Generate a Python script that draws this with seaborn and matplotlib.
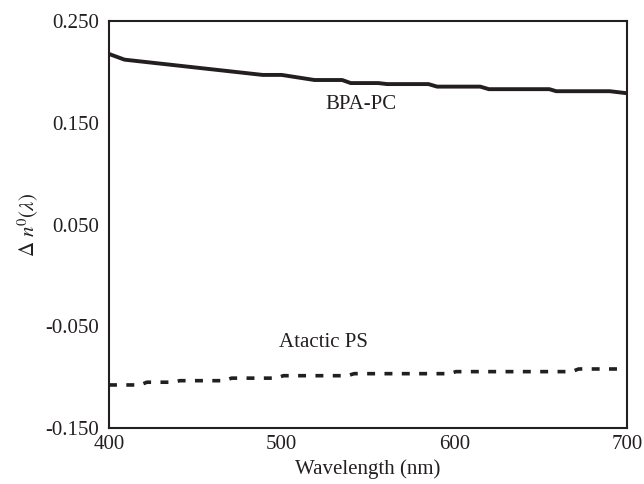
import numpy as np
import pandas as pd
import matplotlib
matplotlib.use("Agg")
import matplotlib.pyplot as plt
import seaborn as sns

# BPA-PC (solid)
pc_wavelength = [400, 409, 489, 500, 519, 535, 540, 556, 561, 585, 590, 615, 620, 655, 659, 690, 700]
pc_dn = [0.2176, 0.212, 0.197, 0.197, 0.192, 0.192, 0.189, 0.189, 0.188, 0.188, 0.1855, 0.1855,
         0.183, 0.183, 0.181, 0.181, 0.179]

# Atactic PS (dashed)
ps_wavelength = [400, 418, 422, 437, 441, 467, 471, 497, 501, 538, 542, 597, 601, 668, 672, 700]
ps_dn = [-0.1077, -0.1077, -0.105, -0.105, -0.1035, -0.1035, -0.101, -0.101, -0.0986, -0.0986,
         -0.0966, -0.0966, -0.0946, -0.0946, -0.092, -0.092]

y_ticks = [-0.150, -0.050, 0.050, 0.150, 0.250]
y_ticklabels = ["-0.150", "-0.050", "0.050", "0.150", "0.250"]
x_ticks = [400, 500, 600, 700]

sns.set_theme(style="white")
plt.rcParams['font.family'] = ['Liberation Serif', 'DejaVu Serif']
plt.rcParams['mathtext.fontset'] = 'stix'

ink = "#231f20"
fs = 15

fig = plt.figure(figsize=(6.44, 4.84), dpi=100)
ax = fig.add_axes([109/644, 1 - 428/484, (627-109)/644, (428-21)/484])

df_pc = pd.DataFrame({"wl": pc_wavelength, "dn": pc_dn})
df_ps = pd.DataFrame({"wl": ps_wavelength, "dn": ps_dn})

sns.lineplot(data=df_pc, x="wl", y="dn", ax=ax, color=ink, linewidth=2.8, estimator=None, sort=False)
sns.lineplot(data=df_ps, x="wl", y="dn", ax=ax, color=ink, linewidth=2.6, estimator=None, sort=False)
ax.lines[-1].set_dashes((2.2, 2.6))
ax.lines[-1].set_dash_capstyle('butt')

ax.set_xlim(400, 700)
ax.set_ylim(-0.150, 0.250)
ax.set_xticks(x_ticks)
ax.set_xticklabels([str(t) for t in x_ticks])
ax.set_yticks(y_ticks)
ax.set_yticklabels(y_ticklabels)

ax.tick_params(axis='both', direction='in', length=9, width=1.0, color=ink,
               labelsize=fs, labelcolor=ink)
ax.tick_params(axis='y', pad=7)
ax.tick_params(axis='x', pad=5)
for s in ax.spines.values():
    s.set_visible(True)
    s.set_color(ink)
    s.set_linewidth(1.5)

ax.set_xlabel("Wavelength (nm)", fontsize=fs, color=ink, labelpad=4)
ax.set_ylabel(r"$\Delta\ n^0(\lambda)$", fontsize=fs, color=ink, labelpad=3)

ax.text(546, 0.168, "BPA-PC", fontsize=fs, color=ink, ha="center", va="center")
ax.text(524, -0.0655, "Atactic PS", fontsize=fs, color=ink, ha="center", va="center")

ax.grid(False)
fig.savefig("out.png", dpi=100)
